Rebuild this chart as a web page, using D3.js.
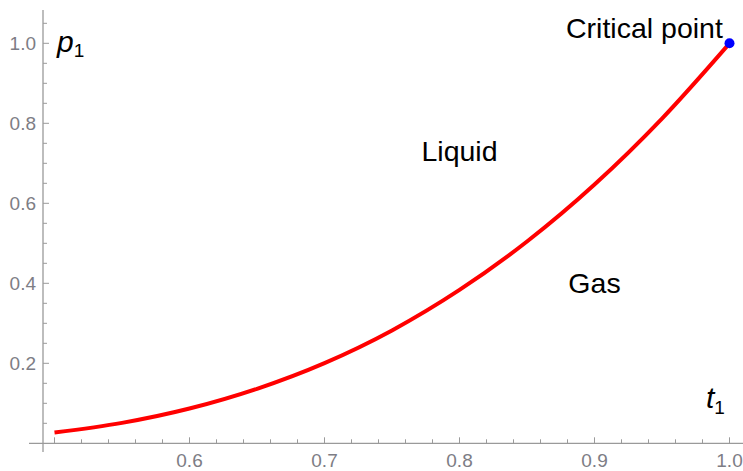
<!DOCTYPE html>
<html><head><meta charset="utf-8">
<script src="https://cdn.jsdelivr.net/npm/d3@7"></script>
<style>body{margin:0;background:#fff}svg{display:block}text{font-family:"Liberation Sans",Arial,sans-serif}</style>
</head><body>
<script>
// van der Waals coexistence (reduced) pressure vs reduced temperature
const temps = [0.50, 0.55, 0.60, 0.65, 0.70, 0.75, 0.80, 0.85, 0.90, 0.95, 1.00];
const pressures = [0.0268, 0.0510, 0.0869, 0.1363, 0.2005, 0.2822, 0.3834, 0.5045, 0.6470, 0.8119, 1.0000];
const xTickLabels = [0.6, 0.7, 0.8, 0.9, 1.0];
const yTickLabels = [0.2, 0.4, 0.6, 0.8, 1.0];
const criticalPoint = [1.0, 1.0];
const regionLabels = [
  {text: "Liquid", t: 0.8, p: 0.705},
  {text: "Gas", t: 0.9, p: 0.375},
  {text: "Critical point", t: 0.937, p: 1.013}
];

const W = 743, H = 471;
const svg = d3.select("body").append("svg").attr("width", W).attr("height", H);
const x = d3.scaleLinear().domain([0.5, 1.0]).range([54.5, 729.5]);
const y = d3.scaleLinear().domain([0, 1]).range([443.3, 43.3]);

const axisCol = "#9a9a9a", labCol = "#7d7d85";
const g = svg.append("g");
// axes lines
g.append("line").attr("x1", 29).attr("x2", 743).attr("y1", y(0)).attr("y2", y(0)).attr("stroke", axisCol).attr("stroke-width", 1.3);
g.append("line").attr("x1", 43).attr("x2", 43).attr("y1", 10).attr("y2", 452).attr("stroke", axisCol).attr("stroke-width", 1.3);

// x ticks
const xMinor = d3.range(25, 51).map(i => i * 0.02);
g.selectAll(".xt").data(xMinor).join("line")
  .attr("x1", d => x(d)).attr("x2", d => x(d))
  .attr("y1", y(0)).attr("y2", d => y(0) - (Math.abs(d*10 - Math.round(d*10)) < 1e-6 ? 6 : 4))
  .attr("stroke", axisCol).attr("stroke-width", 1);
g.selectAll(".xl").data(xTickLabels).join("text")
  .attr("x", d => x(d)).attr("y", 467).attr("text-anchor", "middle")
  .attr("font-size", 19).attr("fill", labCol).text(d => d.toFixed(1));

// y ticks
const yMinor = d3.range(1, 22).map(i => i * 0.05);
g.selectAll(".yt").data(yMinor).join("line")
  .attr("x1", 43).attr("x2", d => 43 + (Math.abs(d*5 - Math.round(d*5)) < 1e-6 ? 6 : 4))
  .attr("y1", d => y(d)).attr("y2", d => y(d))
  .attr("stroke", axisCol).attr("stroke-width", 1);
g.selectAll(".yl").data(yTickLabels).join("text")
  .attr("x", 36).attr("y", d => y(d)).attr("dy", "0.35em").attr("text-anchor", "end")
  .attr("font-size", 19).attr("fill", labCol).text(d => d.toFixed(1));

// curve
const line = d3.line().x(d => x(d[0])).y(d => y(d[1])).curve(d3.curveMonotoneX);
svg.append("path").datum(temps.map((t, i) => [t, pressures[i]]))
  .attr("d", line).attr("fill", "none").attr("stroke", "#ff0000").attr("stroke-width", 4);

// critical point
svg.append("circle").attr("cx", x(criticalPoint[0])).attr("cy", y(criticalPoint[1])).attr("r", 5).attr("fill", "#0000ff");

// labels
svg.selectAll(".rl").data(regionLabels).join("text")
  .attr("x", d => x(d.t)).attr("y", d => y(d.p)).attr("text-anchor", "middle")
  .attr("font-size", 28.5).attr("fill", "#000").text(d => d.text);

// axis labels
const pl = svg.append("text").attr("x", 57).attr("y", 52).attr("font-size", 30);
pl.append("tspan").attr("font-style", "italic").text("p");
pl.append("tspan").attr("font-size", 19).attr("dy", 5).text("1");
const tl = svg.append("text").attr("x", 706).attr("y", 408).attr("font-size", 30);
tl.append("tspan").attr("font-style", "italic").text("t");
tl.append("tspan").attr("font-size", 19).attr("dy", 6).text("1");
</script>
</body></html>
